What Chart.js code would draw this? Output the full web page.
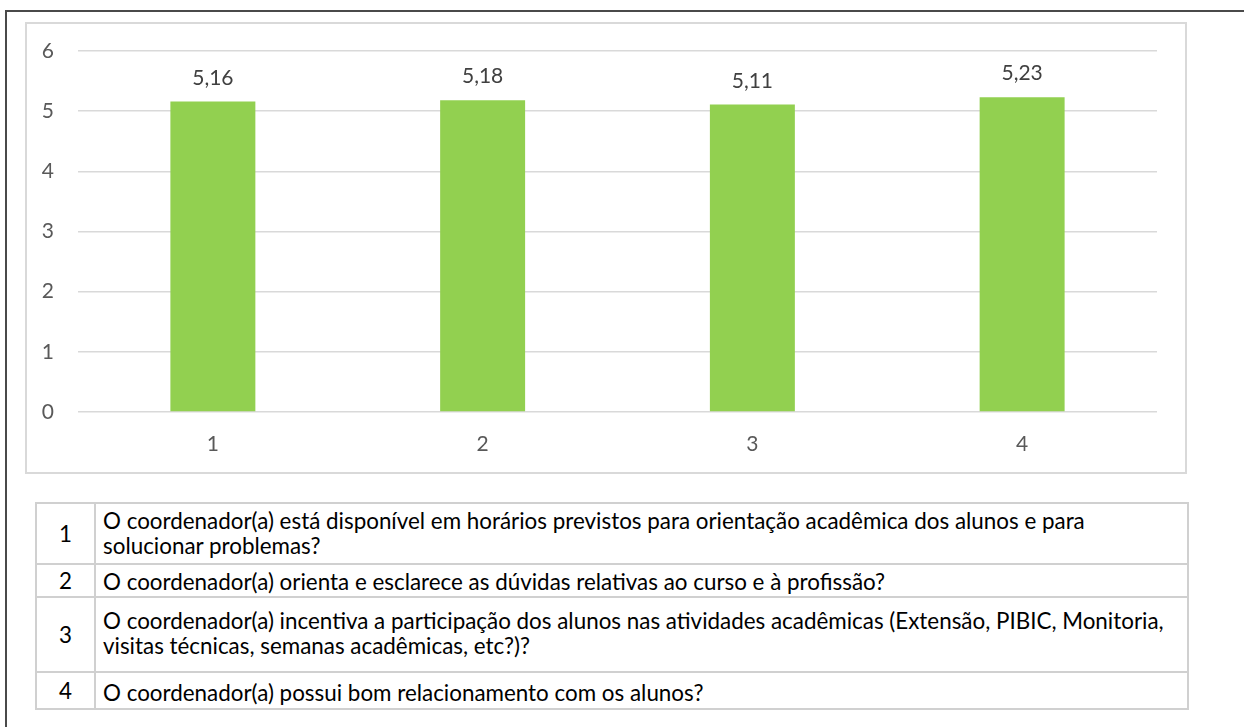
<!DOCTYPE html>
<html>
<head>
<meta charset="utf-8">
<script src="https://cdn.jsdelivr.net/npm/chart.js@4.4.1/dist/chart.umd.min.js"></script>
<style>
  html, body { margin: 0; padding: 0; background: #ffffff; }
  body { width: 1244px; height: 727px; position: relative; overflow: hidden; font-family: Lato, "Open Sans", sans-serif; }
  #frame { position: absolute; left: 5px; top: 10px; width: 1300px; height: 715px; border-top: 2px solid #4a4a4a; border-left: 2px solid #4a4a4a; }
  #chartBox { position: absolute; left: 25px; top: 22px; width: 1162px; height: 452px; border: 2px solid #d9d9d9; box-sizing: border-box; }
  #chartBox canvas { position: absolute; left: 0; top: 0; }
  #legendTable { position: absolute; left: 35px; top: 502px; width: 1154px; border-collapse: collapse; }
  #legendTable td { border: 2px solid #d0d0d0; padding: 0; color: #000; font-size: 22.4px; line-height: 25px; vertical-align: top; white-space: nowrap; }
  #legendTable td.num { width: 57px; text-align: center; vertical-align: middle; }
  #legendTable td.txt { padding-left: 7px; }
</style>
</head>
<body>
<div id="frame"></div>
<div id="chartBox"><canvas id="c" width="1158" height="448" style="width:1158px;height:448px"></canvas></div>
<table id="legendTable"></table>
<script>
// ---- data ----
const categories = ["1", "2", "3", "4"];
const values = [5.16, 5.18, 5.11, 5.23];
const valueLabels = ["5,16", "5,18", "5,11", "5,23"];
const yTicks = [0, 1, 2, 3, 4, 5, 6];
const questionIds = ["1", "2", "3", "4"];
const questionLines = [
  ["O coordenador(a) está disponível em horários previstos para orientação acadêmica dos alunos e para", "solucionar problemas?"],
  ["O coordenador(a) orienta e esclarece as dúvidas relativas ao curso e à profissão?"],
  ["O coordenador(a) incentiva a participação dos alunos nas atividades acadêmicas (Extensão, PIBIC, Monitoria,", "visitas técnicas, semanas acadêmicas, etc?)?"],
  ["O coordenador(a) possui bom relacionamento com os alunos?"]
];

// ---- table layout (styles only) ----
const rowHeights = [61, 33, 75, 37];
const rowPadTop = [4, 4, 10, 7];
const table = document.getElementById('legendTable');
questionIds.forEach((id, i) => {
  const tr = document.createElement('tr');
  tr.style.height = rowHeights[i] + 'px';
  const a = document.createElement('td'); a.className = 'num'; a.textContent = id;
  const b = document.createElement('td'); b.className = 'txt';
  b.style.paddingTop = rowPadTop[i] + 'px';
  b.innerHTML = questionLines[i].map(s => s.replace(/&/g,'&amp;').replace(/</g,'&lt;')).join('<br>');
  tr.appendChild(a); tr.appendChild(b);
  table.appendChild(tr);
});

// ---- chart ----
const valueLabelPlugin = {
  id: 'valueLabels',
  afterDatasetsDraw(chart) {
    const ctx = chart.ctx;
    const meta = chart.getDatasetMeta(0);
    ctx.save();
    ctx.font = '21px Lato, "Open Sans", sans-serif';
    ctx.fillStyle = '#404040';
    ctx.textAlign = 'center';
    ctx.textBaseline = 'alphabetic';
    meta.data.forEach((bar, i) => {
      ctx.fillText(valueLabels[i], bar.x, bar.y - 17);
    });
    ctx.restore();
  }
};

new Chart(document.getElementById('c'), {
  type: 'bar',
  data: {
    labels: categories,
    datasets: [{
      data: values,
      backgroundColor: '#92d050',
      borderWidth: 0,
      categoryPercentage: 1,
      barPercentage: 0.315
    }]
  },
  options: {
    responsive: false,
    animation: false,
    devicePixelRatio: 1,
    layout: { padding: { left: 0, top: 27, right: 28, bottom: 0 } },
    plugins: { legend: { display: false }, tooltip: { enabled: false } },
    scales: {
      x: {
        grid: { display: false, drawTicks: false },
        border: { display: false },
        ticks: { color: '#595959', font: { family: 'Lato, "Open Sans", sans-serif', size: 21 }, padding: 20 },
        afterFit(s) { s.height = 60; }
      },
      y: {
        min: 0, max: 6,
        afterBuildTicks(s) { s.ticks = yTicks.map(v => ({ value: v })); },
        grid: { color: '#d9d9d9', lineWidth: 1.5, drawTicks: false },
        border: { display: false },
        ticks: { color: '#595959', font: { family: 'Lato, "Open Sans", sans-serif', size: 21 }, padding: 24 },
        afterFit(s) { s.width = 51; s.paddingTop = 0; s.paddingBottom = 0; }
      }
    }
  },
  plugins: [valueLabelPlugin]
});
</script>
</body>
</html>
